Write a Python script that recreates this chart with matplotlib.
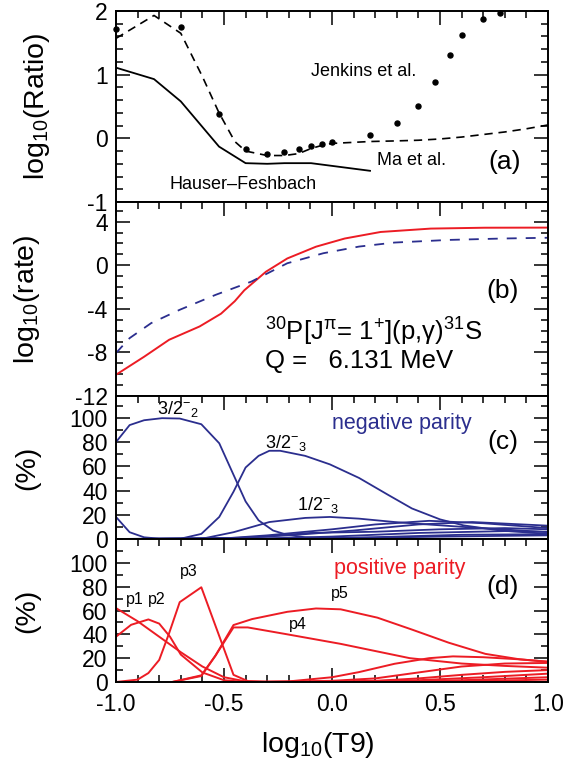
import matplotlib
matplotlib.use("Agg")
import matplotlib.pyplot as plt
from matplotlib.ticker import MultipleLocator, FixedLocator

plt.rcParams['font.family'] = ['Liberation Sans', 'DejaVu Sans']
plt.rcParams['mathtext.fontset'] = 'custom'
plt.rcParams['mathtext.rm'] = 'Liberation Sans'
plt.rcParams['mathtext.it'] = 'Liberation Sans:italic'
plt.rcParams['mathtext.bf'] = 'Liberation Sans:bold'
plt.rcParams['axes.unicode_minus'] = False

BLUE = '#2b2e8e'
RED = '#ec1c24'

# ---------------- panel (a): log10(Ratio) ----------------
hf_x = [-1.0, -0.824, -0.70, -0.523, -0.40, -0.30, -0.22, -0.097, 0.176]
hf_y = [1.11, 0.93, 0.58, -0.13, -0.39, -0.40, -0.39, -0.39, -0.51]

ma_x = [-1.0, -0.824, -0.70, -0.60, -0.523, -0.45, -0.40, -0.30, -0.22, -0.155,
        -0.097, -0.046, 0.0, 0.176, 0.30, 0.40, 0.50, 0.60, 0.70, 0.80, 0.90, 1.0]
ma_y = [1.57, 1.93, 1.65, 0.97, 0.40, -0.05, -0.20, -0.27, -0.27, -0.24,
        -0.16, -0.11, -0.08, -0.05, -0.04, -0.03, -0.01, 0.02, 0.06, 0.10, 0.15, 0.21]

jk_x = [-1.0, -0.699, -0.523, -0.398, -0.301, -0.222, -0.155, -0.097, -0.046, 0.0,
        0.176, 0.301, 0.398, 0.477, 0.544, 0.602, 0.699, 0.778]
jk_y = [1.71, 1.75, 0.39, -0.16, -0.24, -0.21, -0.16, -0.12, -0.09, -0.06,
        0.06, 0.24, 0.51, 0.89, 1.31, 1.63, 1.87, 1.97]

# ---------------- panel (b): log10(rate) ----------------
red_x = [-1.0, -0.87, -0.754, -0.613, -0.514, -0.45, -0.406, -0.306, -0.207, -0.074,
         0.059, 0.225, 0.457, 0.706, 1.0]
red_y = [-10.05, -8.4, -6.84, -5.62, -4.45, -3.3, -2.3, -0.6, 0.62, 1.70,
         2.45, 3.05, 3.36, 3.44, 3.45]
blu_x = [-1.0, -0.937, -0.837, -0.705, -0.539, -0.373, -0.207, -0.04, 0.125, 0.29,
         0.54, 0.79, 1.0]
blu_y = [-8.06, -6.69, -5.31, -4.09, -2.72, -1.50, 0.18, 1.10, 1.71, 2.08,
         2.32, 2.45, 2.52]

# ---------------- panel (c): negative parity (%) ----------------
neg_curves = [
    # 3/2-_2
    ([-1.0, -0.937, -0.87, -0.787, -0.705, -0.605, -0.522, -0.456, -0.40, -0.34,
      -0.273, -0.207, -0.124, 0.0, 0.3, 1.0],
     [80, 94, 98, 99.7, 99.4, 94.7, 79, 53, 31, 15.4,
      7.0, 3.4, 1.4, 0.5, 0.2, 0.1]),
    # 3/2-_3
    ([-1.0, -0.937, -0.87, -0.80, -0.70, -0.605, -0.522, -0.456, -0.40, -0.34,
      -0.29, -0.24, -0.124, -0.01, 0.125, 0.26, 0.37, 0.50, 0.61, 0.78, 1.0],
     [18.2, 5.6, 1.4, 0.3, 0.3, 4.2, 18.2, 39, 59, 68.6,
      72.8, 72.8, 68.6, 61.6, 50.4, 36.4, 25.2, 16.2, 11.2, 7.0, 4.2]),
    # 1/2-_3
    ([-1.0, -0.6, -0.456, -0.29, -0.124, -0.01, 0.125, 0.29, 0.46, 0.62, 1.0],
     [0, 0.3, 5.6, 14, 17.4, 18.2, 16.8, 14, 11.8, 9.8, 5.6]),
    ([-1.0, -0.5, -0.3, 0.0, 0.2, 0.45, 0.7, 1.0],
     [0, 0.5, 3, 8, 12, 15, 13, 9]),
    ([-1.0, -0.5, -0.2, 0.1, 0.4, 0.65, 1.0],
     [0, 0.3, 3, 7, 12, 14, 11]),
    ([-1.0, -0.4, -0.1, 0.2, 0.5, 0.8, 1.0],
     [0, 1, 5, 6, 8, 9, 8]),
    ([-1.0, -0.3, 0.0, 0.4, 0.8, 1.0],
     [0, 0.5, 2, 5, 6.5, 6]),
    ([-1.0, -0.2, 0.2, 0.6, 1.0],
     [0, 0.2, 1.5, 3.5, 4]),
    ([-1.0, 0.0, 0.5, 1.0],
     [0, 0.5, 2, 3]),
]

# ---------------- panel (d): positive parity (%) ----------------
pos_curves = [
    # p1
    ([-1.0, -0.9, -0.8, -0.7, -0.6, -0.5, -0.4, -0.3, 1.0],
     [62, 51, 38, 25, 13, 4, 0.5, 0, 0]),
    # p2
    ([-1.0, -0.93, -0.85, -0.8, -0.75, -0.7, -0.6, -0.5, -0.4, 1.0],
     [38, 48, 52.5, 49, 38, 23, 8, 1.5, 0, 0]),
    # p3
    ([-1.0, -0.9, -0.85, -0.8, -0.754, -0.705, -0.605, -0.456, -0.39, -0.3, 1.0],
     [0, 2, 7.5, 18.5, 41, 67, 79.5, 6, 0.8, 0, 0]),
    # p4
    ([-0.74, -0.605, -0.54, -0.456, -0.39, -0.207, 0.04, 0.36, 0.60, 0.80, 1.0],
     [0, 5.6, 22, 45.8, 45.8, 40, 32, 20, 15.5, 13.5, 12]),
    # p5
    ([-0.74, -0.605, -0.54, -0.456, -0.37, -0.207, -0.074, 0.04, 0.21, 0.37,
      0.54, 0.71, 0.87, 1.0],
     [0, 5, 22, 47.8, 52.8, 58.9, 61.7, 61, 54, 44,
      33, 23.6, 19, 17]),
    ([-0.5, -0.2, 0.0, 0.125, 0.29, 0.45, 0.56, 0.70, 0.87, 1.0],
     [0, 0.5, 4, 8.3, 15.3, 20, 21.5, 20.8, 19, 17]),
    ([-0.4, 0.0, 0.2, 0.4, 0.6, 0.8, 1.0],
     [0, 1, 3, 8, 13, 15.5, 16]),
    ([-0.2, 0.2, 0.4, 0.6, 0.8, 1.0],
     [0, 1, 3, 6, 8.5, 10]),
    ([0.0, 0.4, 0.7, 1.0],
     [0, 1.5, 4, 7]),
    ([0.2, 0.6, 1.0],
     [0, 1.5, 4]),
    ([0.4, 1.0],
     [0, 2]),
]

xticks = [-1.0, -0.5, 0.0, 0.5, 1.0]
xticklabels = ['-1.0', '-0.5', '0.0', '0.5', '1.0']

fig = plt.figure(figsize=(5.63, 7.69), dpi=100)
L, W = 116 / 563, 432 / 563
H = 769.0
axa = fig.add_axes([L, 1 - 202 / H, W, 191 / H])
axb = fig.add_axes([L, 1 - 396 / H, W, 194 / H])
axc = fig.add_axes([L, 1 - 539 / H, W, 143 / H])
axd = fig.add_axes([L, 1 - 682 / H, W, 143 / H])

TICKFS = 16.5
for ax in (axa, axb, axc, axd):
    ax.set_xlim(-1.0, 1.0)
    ax.xaxis.set_major_locator(FixedLocator(xticks))
    ax.xaxis.set_minor_locator(MultipleLocator(0.1))
    for s in ax.spines.values():
        s.set_linewidth(1.4)
    ax.tick_params(which='both', direction='in', top=True, right=True,
                   bottom=(ax is axd), width=1.1, labelsize=TICKFS)
    ax.tick_params(which='major', length=10)
    ax.tick_params(which='minor', length=5)
    ax.tick_params(axis='y', pad=6)
    ax.tick_params(axis='x', pad=8)
    if ax is not axd:
        ax.tick_params(axis='x', labelbottom=False)

# (a)
axa.set_ylim(-1, 2)
axa.yaxis.set_major_locator(FixedLocator([-1, 0, 1, 2]))
axa.yaxis.set_minor_locator(MultipleLocator(0.2))
axa.set_yticklabels(['-1', '0', '1', '2'])
axa.plot(hf_x, hf_y, color='black', lw=1.3)
axa.plot(ma_x, ma_y, color='black', lw=1.2, dashes=(5, 3.5))
axa.plot(jk_x, jk_y, 'o', color='black', ms=3.6, clip_on=False)
axa.text(0.145, 1.05, 'Jenkins et al.', fontsize=13, ha='center', va='center')
axa.text(0.37, -0.35, 'Ma et al.', fontsize=13, ha='center', va='center')
axa.text(-0.41, -0.72, 'Hauser\u2013Feshbach', fontsize=13, ha='center', va='center')
axa.text(0.80, -0.37, '(a)', fontsize=19, ha='center', va='center')

# (b)
axb.set_ylim(-12, 5.8)
axb.yaxis.set_major_locator(FixedLocator([-12, -8, -4, 0, 4]))
axb.yaxis.set_minor_locator(MultipleLocator(1))
axb.set_yticklabels(['-12', '-8', '-4', '0', '4'])
axb.plot(red_x, red_y, color=RED, lw=1.4)
axb.plot(blu_x, blu_y, color=BLUE, lw=1.3, dashes=(5.5, 5))
axb.text(-0.31, -6.1, r'$^{\mathregular{30}}$P[J$^{\mathregular{π}}$= 1$^{\mathregular{+}}$](p,γ)$^{\mathregular{31}}$S',
         fontsize=18.5, ha='left', va='center')
axb.text(-0.31, -8.75, 'Q =   6.131 MeV', fontsize=18.5, ha='left', va='center')
axb.text(0.79, -2.4, '(b)', fontsize=19, ha='center', va='center')

# (c)
axc.set_ylim(0, 118)
axc.yaxis.set_major_locator(FixedLocator([0, 20, 40, 60, 80, 100]))
axc.yaxis.set_minor_locator(MultipleLocator(10))
for cx, cy in neg_curves:
    axc.plot(cx, cy, color=BLUE, lw=1.3)
axc.text(-0.715, 107, r'3/2$^{-}{}_{2}$', fontsize=13, ha='center', va='center')
axc.text(-0.215, 79, r'3/2$^{-}{}_{3}$', fontsize=13, ha='center', va='center')
axc.text(-0.065, 28, r'1/2$^{-}{}_{3}$', fontsize=13, ha='center', va='center')
axc.text(0.324, 95, 'negative parity', fontsize=15.5, color=BLUE, ha='center', va='center')
axc.text(0.79, 80, '(c)', fontsize=19, ha='center', va='center')

# (d)
axd.set_ylim(0, 120)
axd.yaxis.set_major_locator(FixedLocator([0, 20, 40, 60, 80, 100]))
axd.yaxis.set_minor_locator(MultipleLocator(10))
for cx, cy in pos_curves:
    axd.plot(cx, cy, color=RED, lw=1.4)
axd.text(-0.912, 69, 'p1', fontsize=11.5, ha='center', va='center')
axd.text(-0.81, 69, 'p2', fontsize=11.5, ha='center', va='center')
axd.text(-0.664, 93, 'p3', fontsize=11.5, ha='center', va='center')
axd.text(-0.16, 48, 'p4', fontsize=11.5, ha='center', va='center')
axd.text(0.035, 74, 'p5', fontsize=11.5, ha='center', va='center')
axd.text(0.315, 95.5, 'positive parity', fontsize=15.5, color=RED, ha='center', va='center')
axd.text(0.79, 80, '(d)', fontsize=19, ha='center', va='center')
axd.set_xticklabels(xticklabels)

# axis labels
LABFS = 20.5
axa.text(-0.183, 0.5, r'log$_{\mathregular{10}}$(Ratio)', transform=axa.transAxes,
         rotation=90, ha='center', va='center', fontsize=LABFS)
axb.text(-0.205, 0.5, r'log$_{\mathregular{10}}$(rate)', transform=axb.transAxes,
         rotation=90, ha='center', va='center', fontsize=LABFS)
axc.text(-0.206, 0.5, '(%)', transform=axc.transAxes,
         rotation=90, ha='center', va='center', fontsize=LABFS)
axd.text(-0.206, 0.5, '(%)', transform=axd.transAxes,
         rotation=90, ha='center', va='center', fontsize=LABFS)
fig.text(0.565, 1 - 745 / H, r'log$_{\mathregular{10}}$(T9)', ha='center', va='center',
         fontsize=LABFS)

fig.savefig('out.png', dpi=100)
